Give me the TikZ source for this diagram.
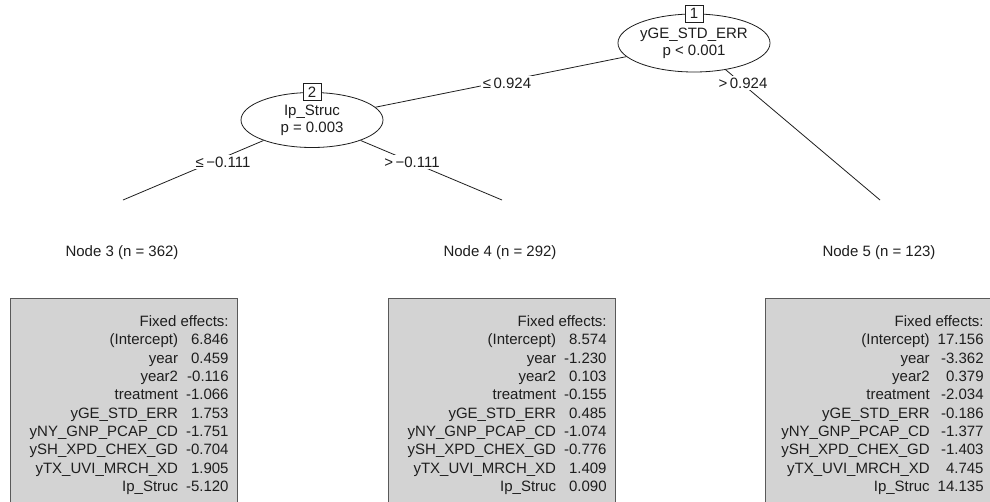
\documentclass[tikz,border=0pt]{standalone}
\usepackage{fontspec}
\setmainfont{Liberation Sans}
\usetikzlibrary{shapes.geometric,calc}
\definecolor{fxgray}{RGB}{211,211,211}
\definecolor{inkc}{RGB}{30,30,30}
\begin{document}
\begin{tikzpicture}[x=1pt,y=-1pt,
  every node/.style={font=\fontsize{15}{18.3}\selectfont, text=inkc},
  innernode/.style={ellipse, draw=inkc, line width=0.8pt, fill=white, inner sep=0pt, align=center,
     font=\fontsize{15}{17}\selectfont},
  idbox/.style={draw=inkc, fill=white, line width=0.8pt, minimum width=18pt, minimum height=17pt, inner sep=0pt},
  edgelab/.style={fill=white, inner sep=1.5pt},
  conn/.style={draw=inkc, line width=0.8pt},
  fxbox/.style={draw=black!65, fill=fxgray, line width=0.8pt, minimum width=227pt, minimum height=230pt,
     anchor=north west, inner sep=0pt},
  fxtext/.style={anchor=north east, inner sep=0pt}
]
\useasboundingbox (0,0) rectangle (990,501);
\clip (0,0) rectangle (990,501);

% inner nodes
\node[innernode, minimum width=152pt, minimum height=58pt] (n1) at (694,43) {yGE\_STD\_ERR\\p < 0.001};
\node[innernode, minimum width=142pt, minimum height=55pt] (n2) at (312,120) {Ip\_Struc\\p = 0.003};

% edge end points
\coordinate (e3) at (123,200);
\coordinate (e4) at (502,200);
\coordinate (e5) at (880,200);

% connectors
\draw[conn] (n1) -- (n2);
\draw[conn] (n1) -- (e5);
\draw[conn] (n2) -- (e3);
\draw[conn] (n2) -- (e4);

% id boxes
\node[idbox] (id1) at (n1.north) {1};
\node[idbox] (id2) at (n2.north) {2};

% edge labels
\node[edgelab] (lab12) at (507,83) {≤\,0.924};
\node[edgelab] (lab15) at (743,83) {>\,0.924};
\node[edgelab] (lab23) at (223,162) {≤\,−0.111};
\node[edgelab] (lab24) at (412,162) {>\,−0.111};

% leaf labels
\node (l3) at (122,253) {Node 3 (n = 362)};
\node (l4) at (500,253) {Node 4 (n = 292)};
\node (l5) at (879,253) {Node 5 (n = 123)};

% fixed effects boxes
\node[fxbox] (b3) at (10,298) {};
\node[fxbox] (b4) at (388,298) {};
\node[fxbox] (b5) at (765,298) {};

\node[fxtext] (t3) at ($(b3.north east)+(-9,15.6)$) {\begin{tabular}{@{}r@{\hspace{8pt}}r@{}}
\multicolumn{2}{@{}r@{}}{Fixed effects:}\\
(Intercept) & 6.846\\
year & 0.459\\
year2 & -0.116\\
treatment & -1.066\\
yGE\_STD\_ERR & 1.753\\
yNY\_GNP\_PCAP\_CD & -1.751\\
ySH\_XPD\_CHEX\_GD & -0.704\\
yTX\_UVI\_MRCH\_XD & 1.905\\
Ip\_Struc & -5.120
\end{tabular}};

\node[fxtext] (t4) at ($(b4.north east)+(-9,15.6)$) {\begin{tabular}{@{}r@{\hspace{8pt}}r@{}}
\multicolumn{2}{@{}r@{}}{Fixed effects:}\\
(Intercept) & 8.574\\
year & -1.230\\
year2 & 0.103\\
treatment & -0.155\\
yGE\_STD\_ERR & 0.485\\
yNY\_GNP\_PCAP\_CD & -1.074\\
ySH\_XPD\_CHEX\_GD & -0.776\\
yTX\_UVI\_MRCH\_XD & 1.409\\
Ip\_Struc & 0.090
\end{tabular}};

\node[fxtext] (t5) at ($(b5.north east)+(-9,15.6)$) {\begin{tabular}{@{}r@{\hspace{8pt}}r@{}}
\multicolumn{2}{@{}r@{}}{Fixed effects:}\\
(Intercept) & 17.156\\
year & -3.362\\
year2 & 0.379\\
treatment & -2.034\\
yGE\_STD\_ERR & -0.186\\
yNY\_GNP\_PCAP\_CD & -1.377\\
ySH\_XPD\_CHEX\_GD & -1.403\\
yTX\_UVI\_MRCH\_XD & 4.745\\
Ip\_Struc & 14.135
\end{tabular}};
\end{tikzpicture}
\end{document}
